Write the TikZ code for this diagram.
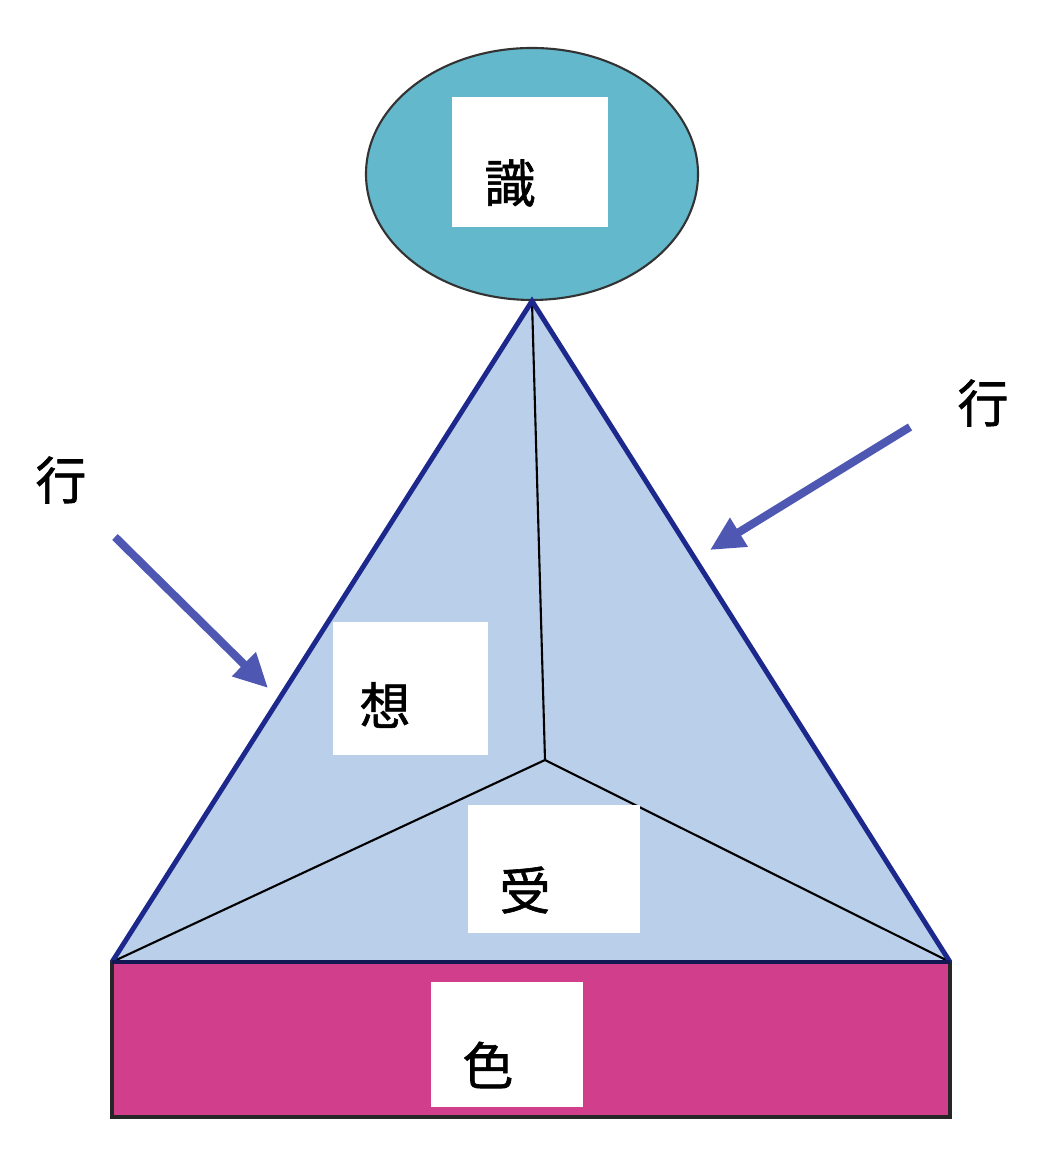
\documentclass[tikz,border=0pt]{standalone}
\usepackage{fontspec}
\setmainfont{Noto Sans CJK JP}[FakeBold=1.2]
\usetikzlibrary{arrows.meta, shapes.geometric}
\definecolor{teal}{RGB}{100,184,204}
\definecolor{sky}{RGB}{186,207,234}
\definecolor{navy}{RGB}{28,40,140}
\definecolor{arrowblue}{RGB}{78,88,178}
\definecolor{magenta}{RGB}{208,62,140}

\begin{document}
\begin{tikzpicture}[
  box/.style={fill=white,inner sep=0pt},
  lbl/.style={font=\fontsize{14.5pt}{16pt}\selectfont,inner sep=0pt},
  thin/.style={black,line width=0.6pt},
  edge/.style={navy,line width=1.4pt},
  ar/.style={arrowblue,line width=2.3pt,
             -{Triangle[length=0.34cm,width=0.32cm]}}
]
\useasboundingbox (0,0) rectangle (10.38,11.75);

%% px -> cm: x/100, (1175-y)/100

% top ellipse
\node[ellipse,draw=black!80,fill=teal,line width=0.6pt,
      minimum width=3.32cm,minimum height=2.52cm,inner sep=0pt]
      (shiki) at (5.32,10.01) {};
\node[box,minimum width=1.56cm,minimum height=1.30cm] (shikibox) at (5.30,10.13) {};
\node[lbl] (shikitxt) at (5.10,9.92) {識};

% pyramid corners
\coordinate (apex)  at (shiki.south);
\coordinate (lbase) at (1.12,2.13);
\coordinate (rbase) at (9.50,2.13);
\coordinate (inner) at (5.45,4.15);

% base rectangle
\node[draw=black!85,fill=magenta,line width=1pt,inner sep=0pt,
      minimum width=8.38cm,minimum height=1.55cm]
      (shiki0) at (5.31,1.355) {};
\node[box,minimum width=1.52cm,minimum height=1.25cm] (irobox) at (5.07,1.305) {};
\node[lbl] (irotxt) at (4.88,1.10) {色};

% pyramid
\fill[sky] (apex) -- (lbase) -- (rbase) -- cycle;
\draw[thin] (apex) -- (inner);
\draw[thin] (lbase) -- (inner) -- (rbase);
\draw[edge] (lbase) -- (apex) -- (rbase);
\draw[navy!60!black,line width=1.2pt] (lbase) -- (rbase);

% labels on faces
\node[box,minimum width=1.55cm,minimum height=1.33cm] (soubox) at (4.105,4.865) {};
\node[lbl] (soutxt) at (3.85,4.70) {想};
\node[box,minimum width=1.72cm,minimum height=1.28cm] (jubox) at (5.54,3.06) {};
\node[lbl] (jutxt) at (5.25,2.85) {受};

% gyo arrows
\node[lbl] (gyoL) at (0.61,6.95) {行};
\node[lbl] (gyoR) at (9.83,7.72) {行};
\coordinate (gyoLs) at (1.15,6.38);
\coordinate (gyoLe) at (2.68,4.87);
\coordinate (gyoRs) at (9.10,7.48);
\coordinate (gyoRe) at (7.10,6.25);
\draw[ar] (gyoLs) -- (gyoLe);
\draw[ar] (gyoRs) -- (gyoRe);

\end{tikzpicture}
\end{document}
